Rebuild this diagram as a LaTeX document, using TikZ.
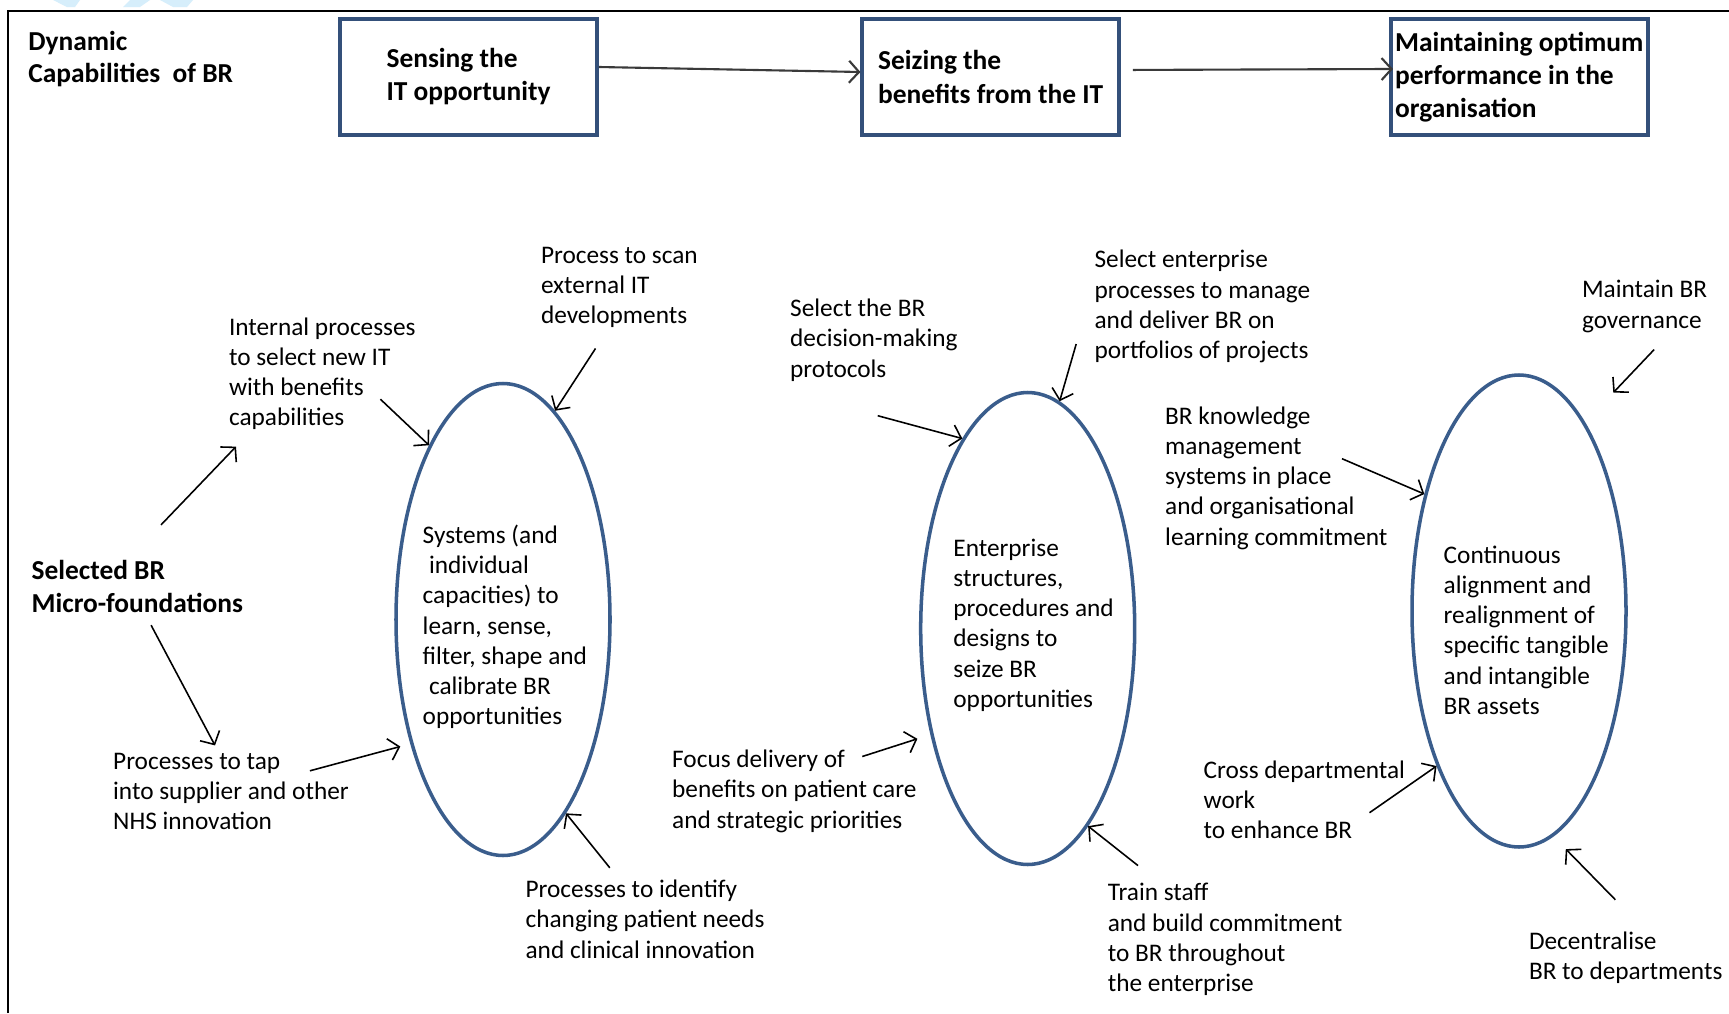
\documentclass[tikz,border=0pt]{standalone}
\usepackage{fontspec}
\setmainfont{Carlito}
\usetikzlibrary{arrows.meta,positioning,shapes.geometric}
\definecolor{boxblue}{HTML}{34507A}
\definecolor{ringblue}{HTML}{3A5D8C}
\definecolor{wash}{HTML}{D6EEFB}
\definecolor{shaft}{HTML}{3A3A3A}

\begin{document}
\begin{tikzpicture}[stage/.style={draw=boxblue,line width=1pt,minimum width=2.57cm,minimum height=1.16cm,inner sep=.5pt,align=left,font=\fontsize{7.8}{9.4}\selectfont\bfseries},ring/.style={ellipse,draw=ringblue,line width=1pt,minimum width=2.14cm,minimum height=4.72cm,inner sep=0pt},note/.style={anchor=west,inner sep=0pt,align=left,font=\fontsize{7.2}{8.6}\selectfont},boldnote/.style={note,font=\fontsize{7.8}{9.3}\selectfont\bfseries},flow/.style={-{Straight Barb[length=1mm,width=2.2mm]},draw=shaft,line width=.6pt},feed/.style={-{Straight Barb[length=1mm,width=2.2mm]},line width=.45pt}]
 \path[use as bounding box,fill=white] (0,0) rectangle (17.29,-10.13);
 \fill[wash] (.53,0) -- (.80,0) -- (.75,-.07) -- (.67,-.07) -- cycle;
 \fill[wash] (1.30,0) -- (1.50,0) -- (1.40,-.07) -- (1.23,-.07) -- cycle;
 \fill[wash] (1.60,0) -- (1.93,0) -- (1.87,-.07) -- (1.73,-.07) -- cycle;
 \draw[line width=.6pt] (.077,-10.13) -- (.077,-.11) -- (17.29,-.11);
 \node[boldnote] (dyn) at (.276,-.59) {Dynamic\\Capabilities\ \ of BR};
 \node[stage] (sense) at (4.685,-.77) {Sensing the\\IT opportunity};
 \node[stage,right=2.617cm of sense] (seize) {Seizing the\\benefits from the IT};
 \node[stage,right=2.68cm of seize] (keep) {Maintaining optimum\\performance in the\\organisation};
 \draw[flow] ([yshift=.1cm]sense.east) -- ([yshift=.05cm]seize.west);
 \draw[flow,shorten <=.12cm,shorten >=-.04cm] ([yshift=.07cm]seize.east) -- ([yshift=.08cm]keep.west);
 \node[ring] (sys) at (5.03,-6.195) {};
 \node[ring] (ent) at (10.277,-6.285) {};
 \node[ring] (cont) at (15.19,-6.11) {};
 \node[note] (systxt) at (4.22,-6.27) {Systems (and\\\hspace*{.25em}individual\\capacities) to\\learn, sense,\\filter, shape and\\\hspace*{.25em}calibrate BR\\opportunities};
 \node[note] (enttxt) at (9.527,-6.25) {Enterprise\\structures,\\procedures and\\designs to\\seize BR\\opportunities};
 \node[note] (conttxt) at (14.43,-6.30) {Continuous\\alignment and\\realignment of\\specific tangible\\and intangible\\BR assets};
 \node[boldnote] (micro) at (.309,-5.866) {Selected BR\\Micro-foundations};
 \node[note] (internal) at (2.283,-3.738) {Internal processes\\to select new IT\\with benefits\\capabilities};
 \node[note] (scan) at (5.403,-2.873) {Process to scan\\external IT\\developments};
 \node[note] (tap) at (1.125,-7.912) {Processes to tap\\into supplier and other\\NHS innovation};
 \node[note] (identify) at (5.249,-9.191) {Processes to identify\\changing patient needs\\and clinical innovation};
 \node[note] (protocol) at (7.895,-3.402) {Select the BR\\decision-making\\protocols};
 \node[note] (portfolio) at (10.939,-3.065) {Select enterprise\\processes to manage\\and deliver BR on\\portfolios of projects};
 \node[note] (knowledge) at (11.645,-4.780) {BR knowledge\\management\\systems in place\\and organisational\\learning commitment};
 \node[note] (focus) at (6.715,-7.912) {Focus delivery of\\benefits on patient care\\and strategic priorities};
 \node[note] (train) at (11.071,-9.395) {Train staff\\and build commitment\\to BR throughout\\the enterprise};
 \node[note] (govern) at (15.813,-3.065) {Maintain BR\\governance};
 \node[note] (cross) at (12.030,-8.000) {Cross departmental\\work\\to enhance BR};
 \node[note] (decentral) at (15.283,-9.577) {Decentralise\\BR to departments};
 \coordinate (m1) at (1.610,-5.249); \coordinate (m1e) at (2.360,-4.466);
 \coordinate (m2) at (1.511,-6.252); \coordinate (m2e) at (2.150,-7.454);
 \coordinate (t3) at (3.804,-3.992); \coordinate (t4) at (5.955,-3.485);
 \coordinate (t5) at (3.099,-7.708); \coordinate (t5e) at (4.003,-7.465);
 \coordinate (t6) at (6.098,-8.678);
 \coordinate (t7) at (8.777,-4.157); \coordinate (t8) at (10.762,-3.440);
 \coordinate (t9) at (8.623,-7.565); \coordinate (t9e) at (9.174,-7.388);
 \coordinate (t10) at (11.380,-8.656);
 \coordinate (t11) at (13.420,-4.587);
 \coordinate (t12) at (16.541,-3.496); \coordinate (t12e) at (16.133,-3.926);
 \coordinate (t13) at (13.695,-8.127);
 \coordinate (t14) at (16.154,-8.998); \coordinate (t14e) at (15.658,-8.491);
 \draw[feed] (m1) -- (m1e);
 \draw[feed] (m2) -- (m2e);
 \draw[feed] (t3) -- (sys.113);
 \draw[feed] (t4) -- (sys.76);
 \draw[feed] (t5) -- (t5e);
 \draw[feed] (t6) -- (sys.288);
 \draw[feed] (t7) -- (ent.109);
 \draw[feed] (t8) -- (ent.82);
 \draw[feed] (t9) -- (t9e);
 \draw[feed] (t10) -- (ent.287);
 \draw[feed] (t11) -- (cont.129);
 \draw[feed] (t12) -- (t12e);
 \draw[feed] (t13) -- (cont.242);
 \draw[feed] (t14) -- (t14e);
\end{tikzpicture}
\end{document}
